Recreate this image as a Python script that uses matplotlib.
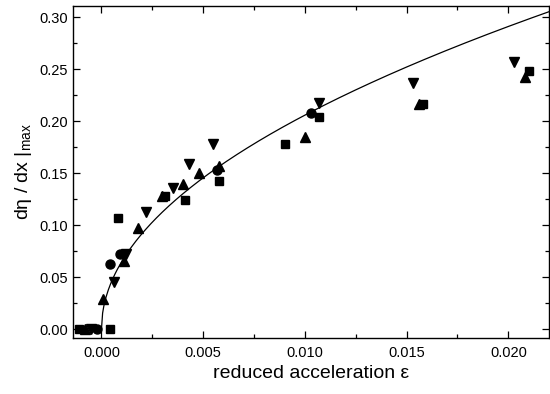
import matplotlib
matplotlib.use('Agg')
import matplotlib.pyplot as plt
import numpy as np
from matplotlib.ticker import MultipleLocator, FormatStrFormatter

plt.rcParams['font.family'] = ['Liberation Sans', 'DejaVu Sans']
plt.rcParams['mathtext.fontset'] = 'custom'
plt.rcParams['mathtext.rm'] = 'Liberation Sans'

# data: (reduced acceleration, max slope)
sq_x = [-0.0011, 0.0004, 0.0008, 0.0031, 0.0041, 0.0058, 0.0090, 0.0107, 0.0158, 0.0210]
sq_y = [0.000, 0.000, 0.107, 0.128, 0.124, 0.143, 0.178, 0.204, 0.217, 0.248]

ci_x = [-0.0002, 0.0004, 0.0009, 0.0057, 0.0103]
ci_y = [0.000, 0.063, 0.072, 0.153, 0.208]

up_x = [-0.0008, 0.0001, 0.0011, 0.0018, 0.0030, 0.0040, 0.0048, 0.0058, 0.0100, 0.0156, 0.0208]
up_y = [0.000, 0.029, 0.066, 0.097, 0.128, 0.140, 0.150, 0.157, 0.185, 0.217, 0.243]

dn_x = [-0.0005, 0.0006, 0.0012, 0.0022, 0.0035, 0.0043, 0.0055, 0.0107, 0.0153, 0.0203]
dn_y = [0.000, 0.045, 0.072, 0.113, 0.136, 0.159, 0.178, 0.218, 0.237, 0.257]

# fit curve: y = A * sqrt(eps)
FIT_A = 2.06
FIT_XMAX = 0.0225

fig = plt.figure(figsize=(5.5, 3.94), dpi=100)
ax = fig.add_axes([0.1327, 0.1421, 0.8655, 0.8426])

ms = 6.5
ax.plot(sq_x, sq_y, 's', color='black', markersize=ms - 0.5)
ax.plot(ci_x, ci_y, 'o', color='black', markersize=ms)
ax.plot(up_x, up_y, '^', color='black', markersize=ms + 0.5)
ax.plot(dn_x, dn_y, 'v', color='black', markersize=ms + 0.5)

xf = np.linspace(0, FIT_XMAX, 400)
ax.plot(xf, FIT_A * np.sqrt(xf), color='black', linewidth=0.9)

ax.set_xlim(-0.0014, 0.0220)
ax.set_ylim(-0.0085, 0.311)

ax.xaxis.set_major_locator(MultipleLocator(0.005))
ax.xaxis.set_minor_locator(MultipleLocator(0.0025))
ax.yaxis.set_major_locator(MultipleLocator(0.05))
ax.yaxis.set_minor_locator(MultipleLocator(0.025))
ax.xaxis.set_major_formatter(FormatStrFormatter('%.3f'))
ax.yaxis.set_major_formatter(FormatStrFormatter('%.2f'))

ax.tick_params(which='both', direction='in', top=True, right=True, labelsize=10.5)
ax.tick_params(which='major', length=5, width=0.9)
ax.tick_params(which='minor', length=3, width=0.9)
ax.tick_params(axis='x', pad=6)
for s in ax.spines.values():
    s.set_linewidth(1.0)

ax.set_xlabel('reduced acceleration ε', fontsize=14, labelpad=3)
ax.set_ylabel(r'dη / dx |$_{\mathrm{max}}$', fontsize=14, labelpad=4)

plt.savefig('out.png', dpi=100)
plt.close()
